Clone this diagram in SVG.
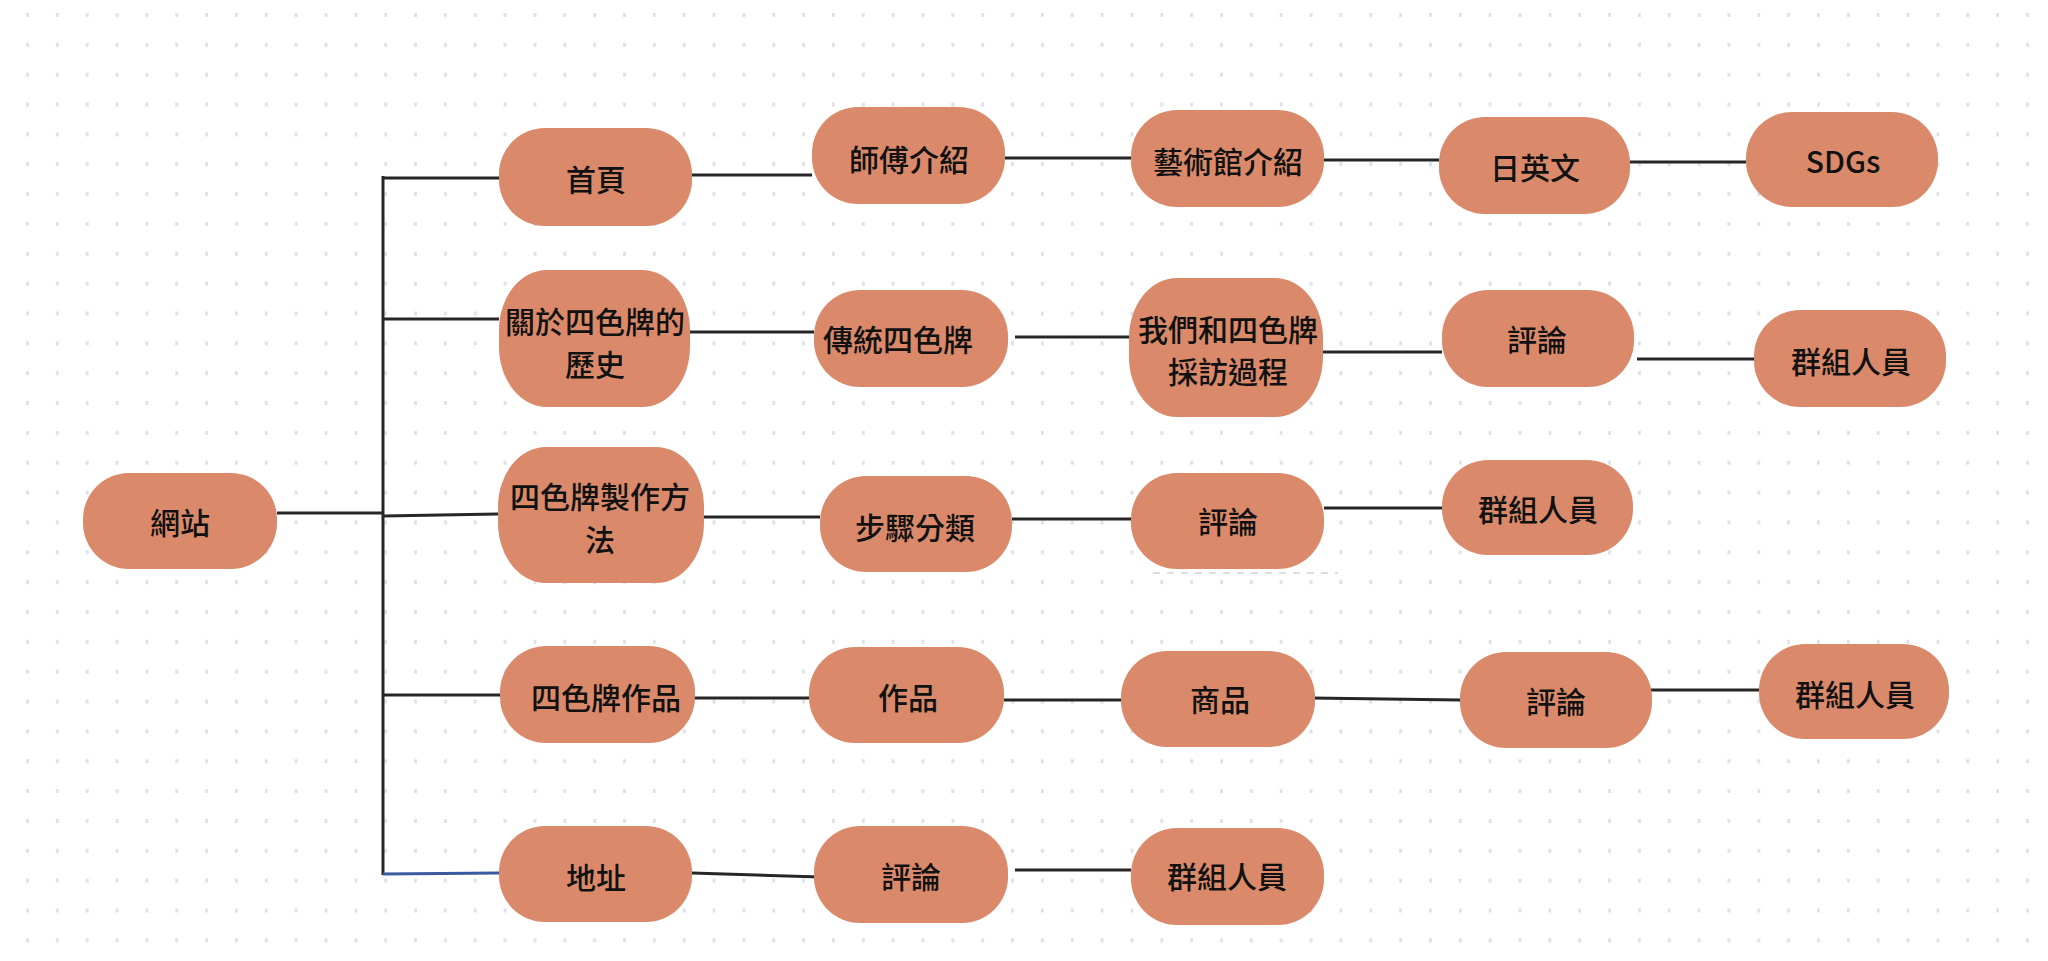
<svg xmlns="http://www.w3.org/2000/svg" width="2048" height="961" viewBox="0 0 2048 961">
<defs>
<pattern id="dots" x="26" y="13" width="29.85" height="29.85" patternUnits="userSpaceOnUse">
<rect x="0" y="0" width="3" height="4" fill="#dfe2ea"/>
</pattern>
<style>
.n{fill:#da8a6a;}
.t{font-family:"Noto Sans CJK TC","Noto Sans CJK SC",sans-serif;font-size:30px;font-weight:500;fill:#111;text-anchor:middle;}
.c{stroke:#262626;stroke-width:3;fill:none;}
</style>
</defs>
<rect width="2048" height="961" fill="#ffffff"/>
<rect width="2048" height="961" fill="url(#dots)"/>
<g id="connectors">
<line class="c" x1="277" y1="513" x2="383" y2="513"/>
<line class="c" x1="383" y1="176" x2="383" y2="875" stroke-width="2.5"/>
<line class="c" x1="383" y1="178" x2="499" y2="178"/>
<line class="c" x1="383" y1="319" x2="499" y2="319"/>
<line class="c" x1="383" y1="516" x2="498" y2="514"/>
<line class="c" x1="383" y1="695" x2="500" y2="695"/>
<line class="c" x1="383" y1="874" x2="499" y2="873" style="stroke:#3a5aa0"/>
<line class="c" x1="692" y1="175" x2="812" y2="175"/>
<line class="c" x1="1005" y1="158" x2="1131" y2="158"/>
<line class="c" x1="1324" y1="160" x2="1439" y2="160"/>
<line class="c" x1="1630" y1="162" x2="1746" y2="162"/>
<line class="c" x1="690" y1="332" x2="814" y2="332"/>
<line class="c" x1="1015" y1="337" x2="1129" y2="337"/>
<line class="c" x1="1323" y1="352" x2="1442" y2="352"/>
<line class="c" x1="1637" y1="359" x2="1754" y2="359"/>
<line class="c" x1="704" y1="517" x2="820" y2="517"/>
<line class="c" x1="1012" y1="519" x2="1131" y2="519"/>
<line class="c" x1="1324" y1="508" x2="1442" y2="508"/>
<line class="c" x1="693" y1="698" x2="809" y2="698"/>
<line class="c" x1="1004" y1="700" x2="1121" y2="700"/>
<line class="c" x1="1311" y1="698" x2="1460" y2="700"/>
<line class="c" x1="1639" y1="690" x2="1759" y2="690"/>
<line class="c" x1="692" y1="873" x2="820" y2="877"/>
<line class="c" x1="1015" y1="870" x2="1131" y2="870"/>
<line x1="1153" y1="573" x2="1338" y2="573" stroke="#d4d4d4" stroke-width="1.5" stroke-dasharray="7 7"/>
</g>
<g id="n-root"><rect class="n" x="83" y="473" width="194" height="96" rx="46"/><text class="t" x="180" y="534">網站</text></g>
<g id="n-home"><rect class="n" x="499" y="128" width="193" height="98" rx="46"/><text class="t" x="596" y="191">首頁</text></g>
<g id="n-history"><rect class="n" x="499" y="270" width="191" height="137" rx="48" ry="60"/><text class="t" x="595" y="333">關於四色牌的</text><text class="t" x="595" y="376">歷史</text></g>
<g id="n-method"><rect class="n" x="498" y="447" width="206" height="136" rx="48" ry="60"/><text class="t" x="600" y="508">四色牌製作方</text><text class="t" x="600" y="551">法</text></g>
<g id="n-works"><rect class="n" x="500" y="646" width="195" height="97" rx="46"/><text class="t" x="606" y="709">四色牌作品</text></g>
<g id="n-address"><rect class="n" x="499" y="826" width="193" height="96" rx="46"/><text class="t" x="596" y="889">地址</text></g>
<g id="n-master"><rect class="n" x="812" y="107" width="193" height="97" rx="46"/><text class="t" x="909" y="171">師傅介紹</text></g>
<g id="n-gallery"><rect class="n" x="1131" y="110" width="193" height="97" rx="46"/><text class="t" x="1228" y="173">藝術館介紹</text></g>
<g id="n-lang"><rect class="n" x="1439" y="117" width="191" height="97" rx="46"/><text class="t" x="1535" y="179">日英文</text></g>
<g id="n-sdgs"><rect class="n" x="1746" y="112" width="192" height="95" rx="46"/><text class="t" x="1843" y="173">SDGs</text></g>
<g id="n-trad"><rect class="n" x="814" y="290" width="194" height="97" rx="46"/><text class="t" x="898" y="351">傳統四色牌</text></g>
<g id="n-interview"><rect class="n" x="1129" y="278" width="194" height="139" rx="48" ry="60"/><text class="t" x="1228" y="341">我們和四色牌</text><text class="t" x="1228" y="383">採訪過程</text></g>
<g id="n-review2"><rect class="n" x="1442" y="290" width="192" height="97" rx="46"/><text class="t" x="1537" y="351">評論</text></g>
<g id="n-team2"><rect class="n" x="1754" y="310" width="192" height="97" rx="46"/><text class="t" x="1851" y="373">群組人員</text></g>
<g id="n-steps"><rect class="n" x="820" y="476" width="192" height="96" rx="46"/><text class="t" x="915" y="539">步驟分類</text></g>
<g id="n-review3"><rect class="n" x="1131" y="473" width="193" height="96" rx="46"/><text class="t" x="1228" y="533">評論</text></g>
<g id="n-team3"><rect class="n" x="1442" y="460" width="191" height="95" rx="46"/><text class="t" x="1538" y="521">群組人員</text></g>
<g id="n-work"><rect class="n" x="809" y="647" width="195" height="96" rx="46"/><text class="t" x="908" y="709">作品</text></g>
<g id="n-goods"><rect class="n" x="1121" y="651" width="194" height="96" rx="46"/><text class="t" x="1220" y="711">商品</text></g>
<g id="n-review4"><rect class="n" x="1460" y="652" width="192" height="96" rx="46"/><text class="t" x="1556" y="713">評論</text></g>
<g id="n-team4"><rect class="n" x="1759" y="644" width="190" height="95" rx="46"/><text class="t" x="1855" y="706">群組人員</text></g>
<g id="n-review5"><rect class="n" x="814" y="826" width="194" height="97" rx="46"/><text class="t" x="911" y="888">評論</text></g>
<g id="n-team5"><rect class="n" x="1131" y="828" width="193" height="97" rx="46"/><text class="t" x="1227" y="888">群組人員</text></g>
</svg>
